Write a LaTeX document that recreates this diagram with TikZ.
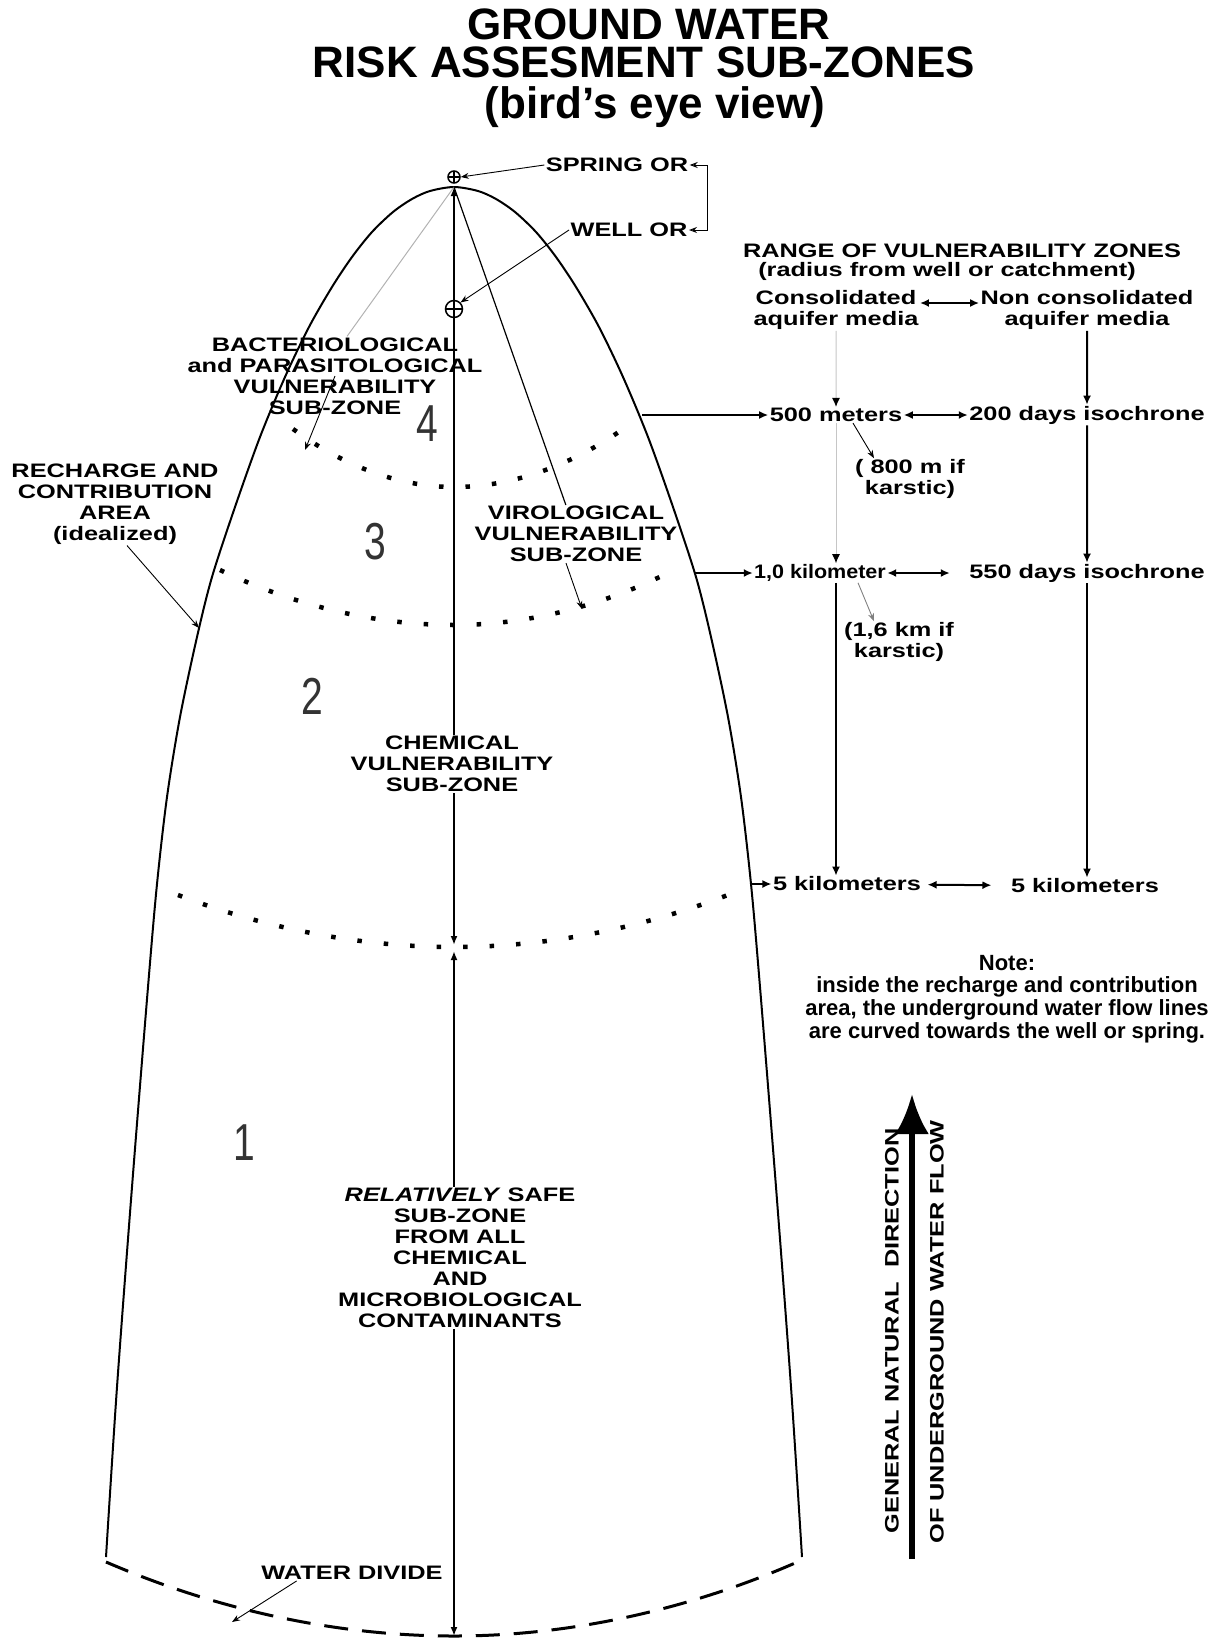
\documentclass[tikz,border=0pt]{standalone}
\usepackage{fontspec}
\setmainfont{Liberation Sans}
\usetikzlibrary{arrows}
\usetikzlibrary{arrows.meta}
\usetikzlibrary{calc}
\tikzset{lbl/.style = {font = \bfseries\fontsize{19.5}{21}\selectfont, align = center, inner sep = 1pt, xscale = 1.3}}
\tikzset{note/.style = {font = \bfseries\fontsize{22}{22.6}\selectfont, align = center, inner sep = 1pt}}
\tikzset{ttl/.style = {font = \bfseries\fontsize{44}{44}\selectfont, anchor = base, inner sep = 0}}
\tikzset{zone/.style = {font = \fontsize{52}{52}\selectfont, text = black!80, xscale = 0.75, inner sep = 0}}
\tikzset{dots/.style = {line width = 4.5pt, dash pattern = on 4.5pt off 22pt}}
\tikzset{wellsym/.style = {circle, draw, line width = 1.5pt, inner sep = 0, fill = white,
    path picture = {\draw[line width = 1.2pt] (path picture bounding box.north) -- (path picture bounding box.south)
      (path picture bounding box.west) -- (path picture bounding box.east);}}}
\tikzset{thinarr/.style = {line width = 0.9pt, -{Stealth[length = 8pt, width = 6pt]}}}
\tikzset{arr/.style = {line width = 2pt, -{Latex[length = 9pt, width = 8pt]}}}
\tikzset{dblarr/.style = {line width = 2pt, {Latex[length = 9pt, width = 8pt]}-{Latex[length = 9pt, width = 8pt]}}}

\begin{document}
\begin{tikzpicture}[x = 1pt, y = -1pt]
    \useasboundingbox (0, 0) rectangle (1219, 1641);

    % title
    \node [ttl] (title1) at (649, 39) {GROUND WATER};
    \node [ttl] (title2) at (644, 77) {RISK ASSESMENT SUB-ZONES};
    \node [ttl] (title3) at (655, 118) {(bird's eye view)};

    % recharge and contribution area
    \draw [line width = 2pt] plot [smooth, tension = 0.5] coordinates {(106, 1557) (117, 1387) (132, 1187) (148, 987) (157, 884) (167, 797) (180, 717) (197, 637) (212, 577) (235, 507) (260, 437) (285, 377) (309, 327) (332, 287) (352, 257) (372, 232) (393, 212) (412, 199) (430, 191) (454, 187) (478, 191) (496, 199) (515, 212) (536, 232) (556, 257) (576, 287) (599, 327) (623, 377) (648, 437) (673, 507) (696, 577) (711, 637) (728, 717) (741, 797) (751, 884) (760, 987) (776, 1187) (791, 1387) (802, 1557)};
    \draw [line width = 3pt, dash pattern = on 24pt off 14pt] (106, 1562) parabola bend (454, 1636) (802, 1560);

    \coordinate (apex) at (454, 187);
    \coordinate (mid1) at (454, 947);
    \coordinate (base) at (454, 1636);
    \draw [line width = 2.5pt, {Latex[length = 9pt, width = 7pt]}-{Latex[length = 9pt, width = 7pt]}] (apex) -- ([yshift = 2pt]mid1);
    \draw [line width = 2.5pt, {Latex[length = 9pt, width = 7pt]}-{Latex[length = 9pt, width = 7pt]}] ([yshift = -4pt]mid1) -- (base);

    % sub-zone limits
    \draw [dots] (293, 429) parabola bend (454, 487) (626, 427);
    \draw [dots] (220, 570) parabola bend (454, 625) (670, 572);
    \draw [dots] (178, 895) parabola bend (454, 947) (733, 893);

    \node [wellsym, minimum size = 12pt] (spring) at (454, 177) {};
    \node [wellsym, minimum size = 17pt] (well) at (454, 309) {};
    \node [lbl] (springlbl) at (617, 165) {SPRING OR};
    \node [lbl] (welllbl) at (629, 230) {WELL OR};
    \draw [thinarr] (springlbl.west) -- (spring.east);
    \draw [thinarr] (welllbl.west) -- (well.45);
    \draw [line width = 1pt, {Stealth[length = 8pt, width = 6pt, open]}-{Stealth[length = 8pt, width = 6pt, open]}] (springlbl.east) -- ++(18, 0) |- (welllbl.east);

    % zones
    \node [zone] (z4) at (427, 424) {4};
    \node [zone] (z3) at (375, 542) {3};
    \node [zone] (z2) at (312, 696) {2};
    \node [zone] (z1) at (244, 1143) {1};

    \node [lbl] (recharge) at (115, 504) {RECHARGE AND\\CONTRIBUTION\\AREA\\(idealized)};
    \coordinate (rechtip) at (199, 628);
    \draw [thinarr] ([xshift = 12pt]recharge.south) -- (rechtip);

    \node [lbl] (bact) at (335, 376) {BACTERIOLOGICAL\\and PARASITOLOGICAL\\VULNERABILITY\\SUB-ZONE};
    \coordinate (bacttip) at (305, 450);
    \draw [gray!60, line width = 1pt] (apex) -- ([xshift = 12pt]bact.north);
    \draw [thinarr] (bact.center) -- (bacttip);

    \node [lbl] (viro) at (576, 534) {VIROLOGICAL\\VULNERABILITY\\SUB-ZONE};
    \coordinate (virotip) at (582, 609);
    \draw [line width = 1.2pt] (apex) -- (viro);
    \draw [thinarr] ([xshift = -10pt]viro.south) -- (virotip);

    \node [lbl, fill = white] (chem) at (452, 764) {CHEMICAL\\VULNERABILITY\\SUB-ZONE};
    \node [lbl, fill = white] (safe) at (460, 1258) {\textit{RELATIVELY} SAFE\\SUB-ZONE\\FROM ALL\\CHEMICAL\\AND\\MICROBIOLOGICAL\\CONTAMINANTS};

    \node [lbl] (wdiv) at (352, 1573) {WATER DIVIDE};
    \coordinate (wdivtip) at (232, 1622);
    \draw [thinarr] ($(wdiv.south west)!0.2!(wdiv.south east)$) -- (wdivtip);

    % range of vulnerability zones
    \node [lbl] (range) at (962, 251) {RANGE OF VULNERABILITY ZONES};
    \node [lbl] (radius) at (947, 271) {(radius from well or catchment)};
    \node [lbl] (cons) at (836, 310) {Consolidated\\aquifer media};
    \node [lbl] (noncons) at (1087, 310) {Non consolidated\\aquifer media};
    \draw [dblarr] ([yshift = 7pt]cons.east) -- ([yshift = 7pt]noncons.west);

    \node [lbl] (m500) at (836, 415) {500 meters};
    \node [lbl] (d200) at (1087, 415) {200 days isochrone};
    \node [lbl] (karst1) at (910, 479) {( 800 m if\\karstic)};
    \node [lbl, xscale = 0.85] (km1) at (820, 573) {1,0 kilometer};
    \node [lbl] (d550) at (1087, 573) {550 days isochrone};
    \node [lbl] (karst2) at (899, 642) {(1,6 km if\\karstic)};
    \node [lbl] (km5) at (847, 884) {5 kilometers};
    \node [lbl] (km5r) at (1085, 886) {5 kilometers};

    \coordinate (r500) at (642, 415);
    \coordinate (r1km) at (694, 573);
    \coordinate (r5km) at (752, 884);
    \draw [arr] (r500) -- (m500);
    \draw [arr] (r1km) -- (km1);
    \draw [arr] (r5km) -- (km5);
    \draw [dblarr] (m500) -- (d200);
    \draw [dblarr, shorten > = 18pt] (km1) -- (d550);
    \draw [dblarr, shorten < = 5pt, shorten > = 18pt] (km5) -- (km5r);

    \draw [gray!45, line width = 1pt, -{Latex[black, length = 9pt, width = 8pt]}] (cons) -- (m500);
    \draw [gray!45, line width = 1pt, -{Latex[black, length = 9pt, width = 8pt]}] (m500.south) -- (m500.south |- km1.north);
    \draw [arr] (noncons) -- (d200);
    \draw [arr] (d200) -- (d550);
    \draw [arr] (km1.south -| m500) -- (km5.north -| m500);
    \draw [arr] (d550.south) -- (d550.south |- km5r.north);
    \draw [thinarr] ([xshift = 17pt]m500.south) -- ([xshift = -36pt]karst1.north);
    \draw [thinarr, gray] ([xshift = 38pt]km1.south) -- ([xshift = -25pt]karst2.north);

    % note and flow direction
    \node [note] (notelbl) at (1007, 999) {Note:\\inside the recharge and contribution\\area, the underground water flow lines\\are curved towards the well or spring.};

    \coordinate (flowtail) at (912, 1559);
    \coordinate (flowhead) at (912, 1094);
    \draw [line width = 6pt, -{Latex[length = 40pt, width = 34pt]}] (flowtail) -- (flowhead);
    \node [rotate = 90, lbl] (dirlbl) at (892, 1331) {GENERAL NATURAL\ \ DIRECTION};
    \node [rotate = 90, lbl] (flowlbl) at (937, 1332) {OF UNDERGROUND WATER FLOW};
  \end{tikzpicture}
\end{document}
